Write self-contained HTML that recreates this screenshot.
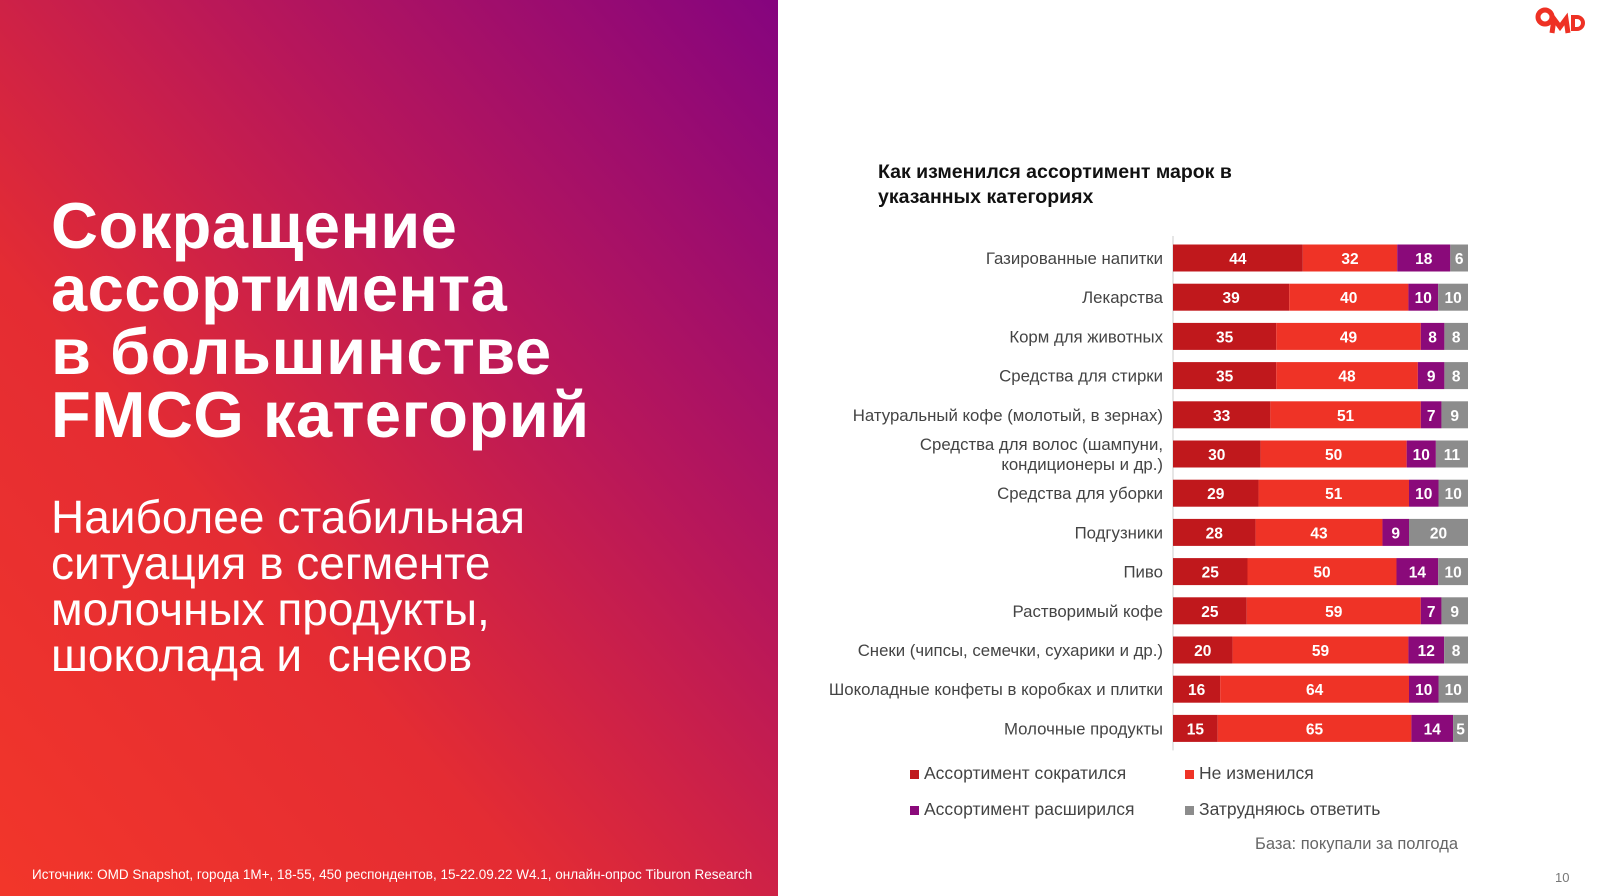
<!DOCTYPE html>
<html><head><meta charset="utf-8">
<style>
html,body{margin:0;padding:0;}
body{width:1600px;height:896px;position:relative;overflow:hidden;background:#fff;font-family:"Liberation Sans","DejaVu Sans",sans-serif;}
#left{position:absolute;left:0;top:0;width:778px;height:896px;background:linear-gradient(to top right,#f2362a 0%,#e42c33 35%,#b8175a 65%,#85047f 100%);}
#h1{position:absolute;left:51px;top:194px;color:#fff;font-weight:bold;font-size:65px;line-height:63px;margin:0;letter-spacing:0.5px;}
#h2{position:absolute;left:51px;top:494px;color:#fff;font-size:46px;line-height:46px;}
#src{position:absolute;left:32px;top:867px;color:#fff;font-size:13.5px;}
#title{position:absolute;left:878px;top:160px;font-weight:bold;font-size:19.5px;line-height:25px;color:#111;}
.lg{position:absolute;font-size:17.5px;color:#444;}
.lg i{display:inline-block;width:9px;height:9px;margin-right:5px;}
</style></head><body>
<div id="left">
<div id="h1">Сокращение<br>ассортимента<br>в большинстве<br>FMCG категорий</div>
<div id="h2">Наиболее стабильная<br>ситуация в сегменте<br>молочных продукты,<br>шоколада и &nbsp;снеков</div>
<div id="src">Источник: OMD Snapshot, города 1M+, 18-55, 450 респондентов, 15-22.09.22 W4.1, онлайн-опрос Tiburon Research</div>
</div>
<svg style="position:absolute;left:1535px;top:5px" width="60" height="34">
<circle cx="10" cy="12" r="7" fill="none" stroke="#ee3124" stroke-width="5"/>
<path d="M17 28 L19 14 L25 22 L31 14 L33 28" fill="none" stroke="#ee3124" stroke-width="5"/>
<path d="M38 12 h4 a6 6 0 0 1 0 12 h-4 z" fill="none" stroke="#ee3124" stroke-width="4"/>
</svg>
<div id="title">Как изменился ассортимент марок в<br>указанных категориях</div>
<svg id="chart" style="position:absolute;left:0;top:0" width="1600" height="896"></svg>
<div class="lg" style="left:910px;top:763px"><i style="background:#c0181c"></i>Ассортимент сократился</div>
<div class="lg" style="left:1185px;top:763px"><i style="background:#ef3326"></i>Не изменился</div>
<div class="lg" style="left:910px;top:799px"><i style="background:#8a0a7a"></i>Ассортимент расширился</div>
<div class="lg" style="left:1185px;top:799px"><i style="background:#8c8c8c"></i>Затрудняюсь ответить</div>
<div class="lg" style="left:1255px;top:835px;font-size:16.5px;color:#666">База: покупали за полгода</div>
<div style="position:absolute;left:1555px;top:870px;font-size:13px;color:#777">10</div>
<script>
const categories=[["Газированные напитки"],["Лекарства"],["Корм для животных"],["Средства для стирки"],["Натуральный кофе (молотый, в зернах)"],["Средства для волос (шампуни,","кондиционеры и др.)"],["Средства для уборки"],["Подгузники"],["Пиво"],["Растворимый кофе"],["Снеки (чипсы, семечки, сухарики и др.)"],["Шоколадные конфеты в коробках и плитки"],["Молочные продукты"]];
const reduced=[44,39,35,35,33,30,29,28,25,25,20,16,15];
const unchanged=[32,40,49,48,51,50,51,43,50,59,59,64,65];
const expanded=[18,10,8,9,7,10,10,9,14,7,12,10,14];
const unsure=[6,10,8,8,9,11,10,20,10,9,8,10,5];
const series=[reduced,unchanged,expanded,unsure];
const colors=["#c0181c","#ef3326","#8a0a7a","#8c8c8c"];
const snames=["reduced","unchanged","expanded","unsure"];
const NS="http://www.w3.org/2000/svg";
const svg=document.getElementById('chart');
const x0=1173,w100=295,y0=258,step=39.2,bh=27;
const xs=v=>v*w100/100, yc=i=>y0+i*step;
const ax=document.createElementNS(NS,'line');


ax.setAttribute('x1',x0);ax.setAttribute('x2',x0);ax.setAttribute('y1',y0-22);ax.setAttribute('y2',yc(12)+22);
ax.setAttribute('stroke','#ddd');ax.setAttribute('stroke-width','1.5');svg.appendChild(ax);
categories.forEach((lab,i)=>{
  const tot=series.reduce((s,a)=>s+a[i],0);
  let acc=0;
  series.forEach((arr,k)=>{
    const v=arr[i];const x=x0+xs(acc*100/tot);const w=xs(v*100/tot);
    const r=document.createElementNS(NS,'rect');
    
    
    r.setAttribute('x',x);r.setAttribute('y',yc(i)-bh/2);r.setAttribute('width',w);r.setAttribute('height',bh);r.setAttribute('fill',colors[k]);
    svg.appendChild(r);
    const t=document.createElementNS(NS,'text');
    
    
    t.setAttribute('x',x+w/2);t.setAttribute('y',yc(i)+6);t.setAttribute('text-anchor','middle');t.setAttribute('fill','#fff');t.setAttribute('font-size','15.5');t.setAttribute('font-weight','bold');
    t.textContent=v;svg.appendChild(t);
    acc+=v;
  });
  const t=document.createElementNS(NS,'text');
  
  
  t.setAttribute('text-anchor','end');t.setAttribute('fill','#444');t.setAttribute('font-size','16.8');
  lab.forEach((l,j)=>{const s=document.createElementNS(NS,'tspan');s.setAttribute('x',1163);
    s.setAttribute('y',yc(i)+6+(j-(lab.length-1)/2)*20);s.textContent=l;t.appendChild(s);});
  svg.appendChild(t);
});
</script>
</body></html>
